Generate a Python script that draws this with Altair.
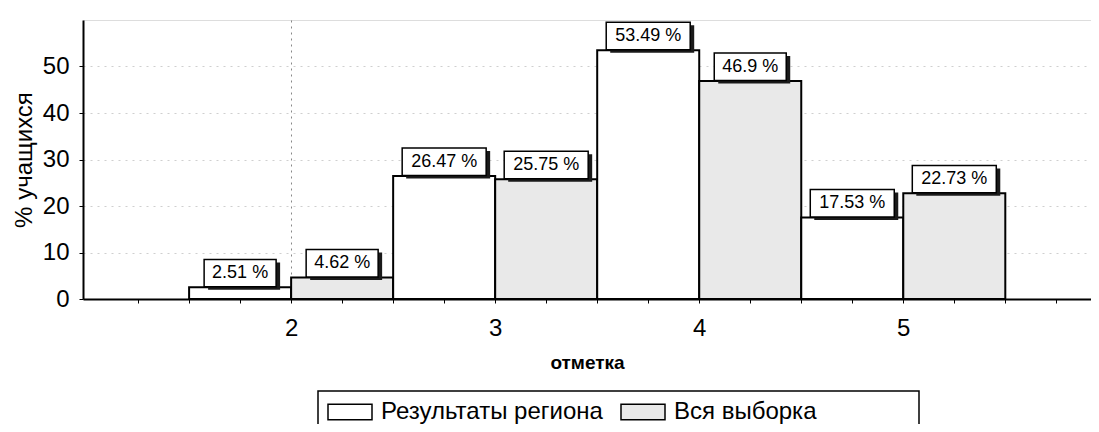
import altair as alt
import pandas as pd

grades = [2, 3, 4, 5]
region = [2.51, 26.47, 53.49, 17.53]
sample = [4.62, 25.75, 46.9, 22.73]
series = ["Результаты региона", "Вся выборка"]
x_ticks = [1.25, 1.5, 1.75, 2, 2.25, 2.5, 2.75, 3, 3.25, 3.5, 3.75,
           4, 4.25, 4.5, 4.75, 5, 5.25, 5.5, 5.75]
y_ticks = [0, 10, 20, 30, 40, 50]

FONT = "Liberation Sans"
# trailing non-trimmable filler so the legend frame is as wide as in the reference
PAD = "\u00a0" * 14 + "\u200b"

rows = []
for i, g in enumerate(grades):
    for k, vals in enumerate([region, sample]):
        rows.append({"grade": g, "series": series[k], "side": k,
                     "value": vals[i], "label": f"{vals[i]:g} %"})
df = pd.DataFrame(rows)

xscale = alt.Scale(domain=[0.98, 5.92], nice=False, zero=False)
yscale = alt.Scale(domain=[0, 60], nice=False)

xaxis = alt.Axis(
    values=x_ticks,
    labelExpr="(datum.value >= 2 && datum.value <= 5 && datum.value % 1 == 0) ? format(datum.value, 'd') : ''",
    labelFontSize=24, labelFont=FONT, labelColor="black", labelPadding=13,
    labelOverlap=False, labelFlush=False,
    tickSize=4, tickColor="black", tickWidth=1,
    domainColor="black", domainWidth=2,
    titleFontSize=19, titleFont=FONT, titleFontWeight="bold", titleColor="black",
    titlePadding=13,
    grid=True, gridColor="#555", gridDash=[2, 4], gridWidth=1,
    gridOpacity={"condition": {"test": "datum.value === 2", "value": 0.7}, "value": 0},
)
yaxis = alt.Axis(
    values=y_ticks,
    labelFontSize=24, labelFont=FONT, labelColor="black", labelPadding=10,
    tickSize=4, tickColor="black", tickWidth=1,
    domainColor="black", domainWidth=2,
    titleFontSize=24, titleFont=FONT, titleFontWeight="normal", titleColor="black",
    titlePadding=6,
    grid=True, gridColor="#888", gridDash=[2, 5], gridWidth=1, gridOpacity=0.4,
)

base = alt.Chart(df).transform_calculate(
    x0="datum.grade - 0.5 + 0.5 * datum.side",
    x1="datum.grade + 0.5 * datum.side",
    xc="datum.grade - 0.25 + 0.5 * datum.side",
    hw="length(datum.label) * 0.0294",
    bl="datum.xc - datum.hw",
    br="datum.xc + datum.hw",
    yb="datum.value + 0.1",
    yt="datum.value + 6.0",
    ym="datum.value + 3.05",
)

bars = base.mark_bar(stroke="black", strokeWidth=2).encode(
    x=alt.X("x0:Q", scale=xscale, axis=xaxis, title="отметка"),
    x2="x1:Q",
    y=alt.Y("value:Q", scale=yscale, axis=yaxis, title="% учащихся"),
    y2=alt.datum(0),
    fill=alt.Fill(
        "series:N",
        scale=alt.Scale(domain=series, range=["white", "#e9e9e9"]),
        sort=series,
        legend=alt.Legend(
            orient="none", legendX=235, legendY=371, direction="horizontal",
            title=None,
            symbolType="M-1,-0.7H3V0.7H-1Z", symbolSize=484,
            symbolStrokeColor="black", symbolStrokeWidth=1.5,
            labelFontSize=24, labelFont=FONT, labelColor="black",
            labelLimit=800, labelOffset=30, columnPadding=15,
            padding=9, fillColor="white",
            labelExpr="datum.value == '" + series[1] + "' ? datum.label + '" + PAD + "' : datum.label",
        ),
    ),
)

shadow = base.mark_rect(fill="#1a1a1a", xOffset=4, x2Offset=4, yOffset=3, y2Offset=3).encode(
    x=alt.X("bl:Q", scale=xscale, title="отметка"),
    x2="br:Q",
    y=alt.Y("yb:Q", scale=yscale, title="% учащихся"),
    y2="yt:Q",
)

box = base.mark_rect(fill="white", stroke="black", strokeWidth=1.5).encode(
    x=alt.X("bl:Q", scale=xscale, title="отметка"),
    x2="br:Q",
    y=alt.Y("yb:Q", scale=yscale, title="% учащихся"),
    y2="yt:Q",
)

text = base.mark_text(fontSize=18, font=FONT, color="black").encode(
    x=alt.X("xc:Q", scale=xscale, title="отметка"),
    y=alt.Y("ym:Q", scale=yscale, title="% учащихся"),
    text="label:N",
)

chart = alt.layer(bars, shadow, box, text).properties(
    width=1008, height=279,
    autosize=alt.AutoSizeParams(type="none"),
    padding={"left": 75, "top": 12, "right": 0, "bottom": 125},
).configure_view(stroke=None).configure(background="white").configure_legend(
    strokeColor="black", strokeWidth=1.5
)

chart.save("out.html", embed_options={"renderer": "svg", "actions": False})
